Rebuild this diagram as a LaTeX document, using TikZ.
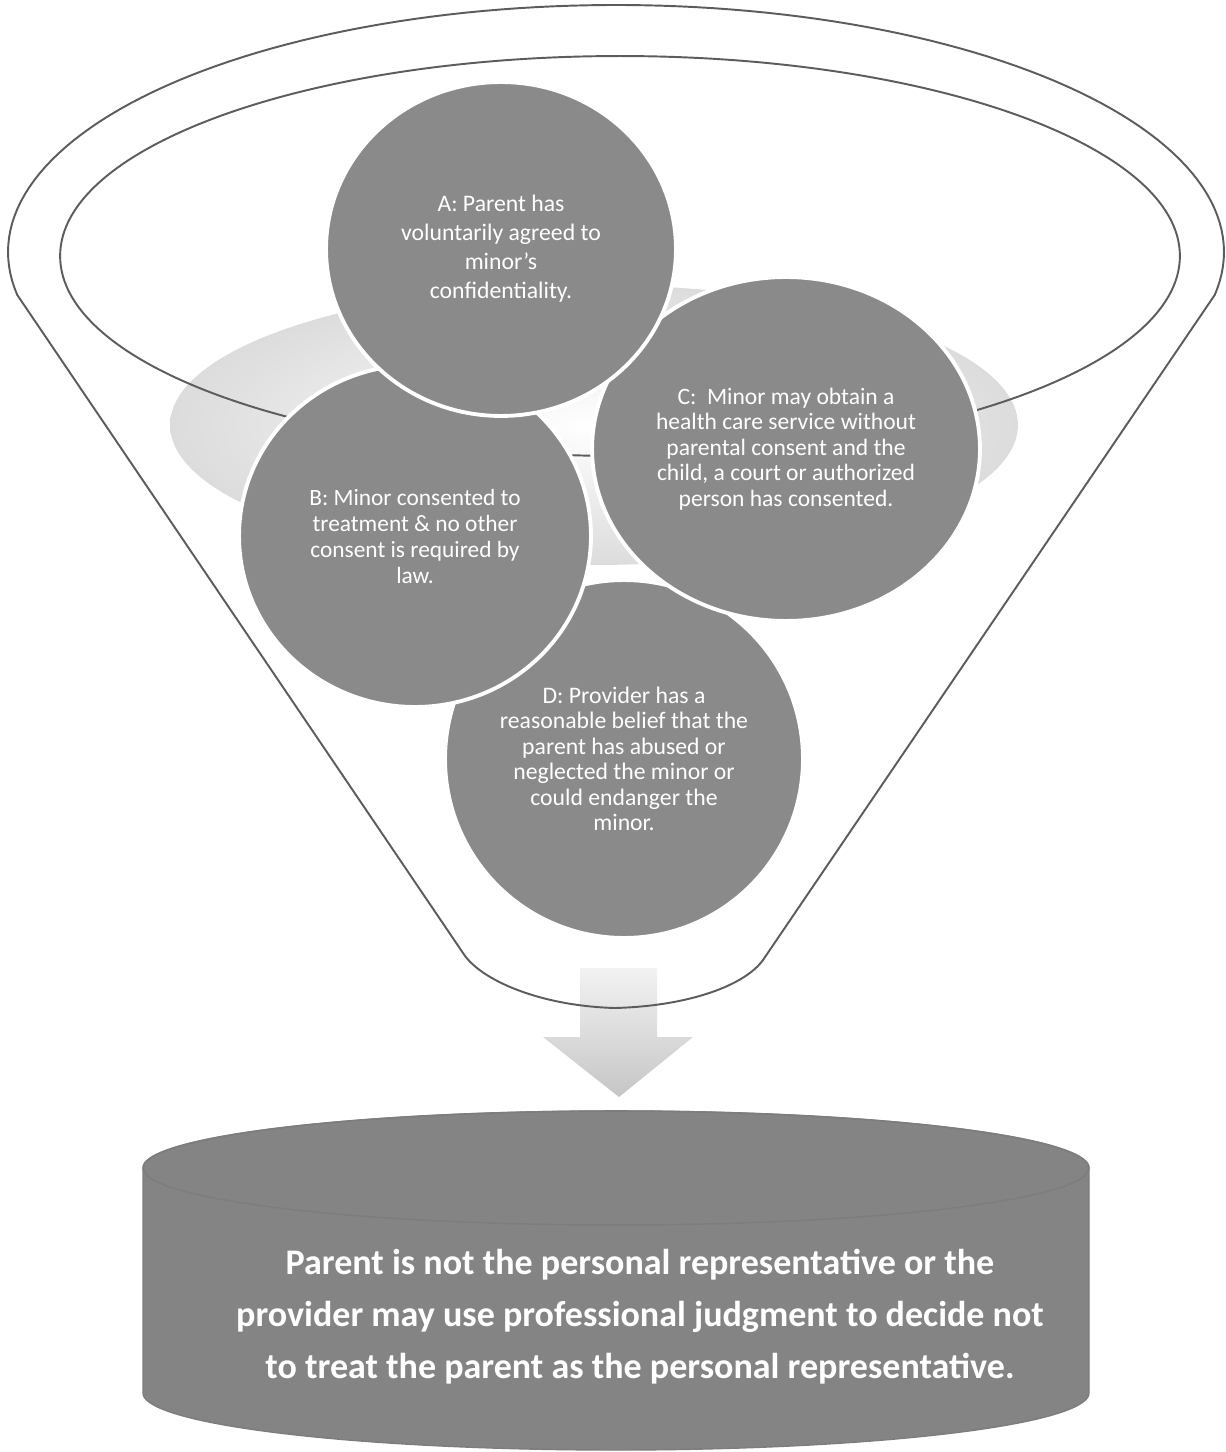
\documentclass[tikz,border=0pt]{standalone}
\usepackage{fontspec}
\setmainfont{Carlito}
\usetikzlibrary{shapes.geometric}
\definecolor{circfill}{HTML}{8A8A8A}
\definecolor{cylfill}{HTML}{848484}
\definecolor{lineclr}{HTML}{5C5C5C}
\definecolor{glow}{HTML}{DCDCDC}
\tikzset{
  funnelline/.style={draw=lineclr, line width=1.1pt, line join=round},
  bubble/.style={ellipse, fill=circfill, draw=white, line width=2.2pt, inner sep=0pt,
                 text=white, align=center},
  cyltext/.style={text=white, align=center, font=\bfseries\fontsize{20.5pt}{29.6pt}\selectfont},
}
\begin{document}
\begin{tikzpicture}[x=0.02cm, y=-0.02cm]
\useasboundingbox (0,0) rectangle (1225,1452);

% light glow behind the circles
\path[inner color=white, outer color=glow] (594,425) ellipse [x radius=8.48cm, y radius=2.8cm];

% inner rim of the funnel
\draw[funnelline] (620,256) ellipse [x radius=11.2cm, y radius=4cm];

% circles
\node[bubble, minimum width=7.16cm, minimum height=7.16cm,
      font=\fontsize{13.5pt}{14.5pt}\selectfont] (D) at (624,759)
  {D: Provider has a\\ reasonable belief that the\\ parent has abused or\\ neglected the minor or\\ could endanger the\\ minor.};
\node[bubble, minimum width=7.04cm, minimum height=6.84cm,
      font=\fontsize{13.3pt}{14.8pt}\selectfont] (B) at (415,536)
  {B: Minor consented to\\ treatment \& no other\\ consent is required by\\ law.};
\node[bubble, minimum width=7.76cm, minimum height=6.88cm,
      font=\fontsize{13.4pt}{14.5pt}\selectfont] (C) at (786,449)
  {C:\ \ Minor may obtain a\\ health care service without\\ parental consent and the\\ child, a court or authorized\\ person has consented.};
\node[bubble, minimum width=7cm, minimum height=6.68cm,
      font=\fontsize{13.5pt}{16.5pt}\selectfont] (A) at (501,249)
  {A: Parent has\\ voluntarily agreed to\\ minor's\\ confidentiality.};

% block arrow
\path[top color=gray!10, bottom color=gray!45]
  (580,968) -- (657,968) -- (657,1037) -- (693,1037) -- (619,1097)
  -- (543,1037) -- (580,1037) -- cycle;

% funnel outline
\draw[funnelline] (463,953) -- plot[domain=170:370, samples=120]
    ({616+608*cos(\x)},{252+247*sin(\x)})
  -- (763,960) .. controls (745,985) and (690,1006) .. (615,1008)
  .. controls (540,1006) and (480,980) .. cycle;

% cylinder
\path[fill=cylfill, draw=lineclr!80, line width=0.8pt]
  (143,1168) -- (143,1393)
  -- plot[domain=180:0, samples=80] ({616+473*cos(\x)},{1393+57*sin(\x)})
  -- (1089,1168)
  -- plot[domain=0:-180, samples=80] ({616+473*cos(\x)},{1168+57*sin(\x)})
  -- cycle;
\draw[lineclr!80, line width=0.9pt] (616,1168) ellipse [x radius=9.46cm, y radius=1.14cm];

\node[cyltext] (result) at (640,1317)
  {Parent is not the personal representative or the\\
   provider may use professional judgment to decide not\\
   to treat the parent as the personal representative.};
\end{tikzpicture}
\end{document}
